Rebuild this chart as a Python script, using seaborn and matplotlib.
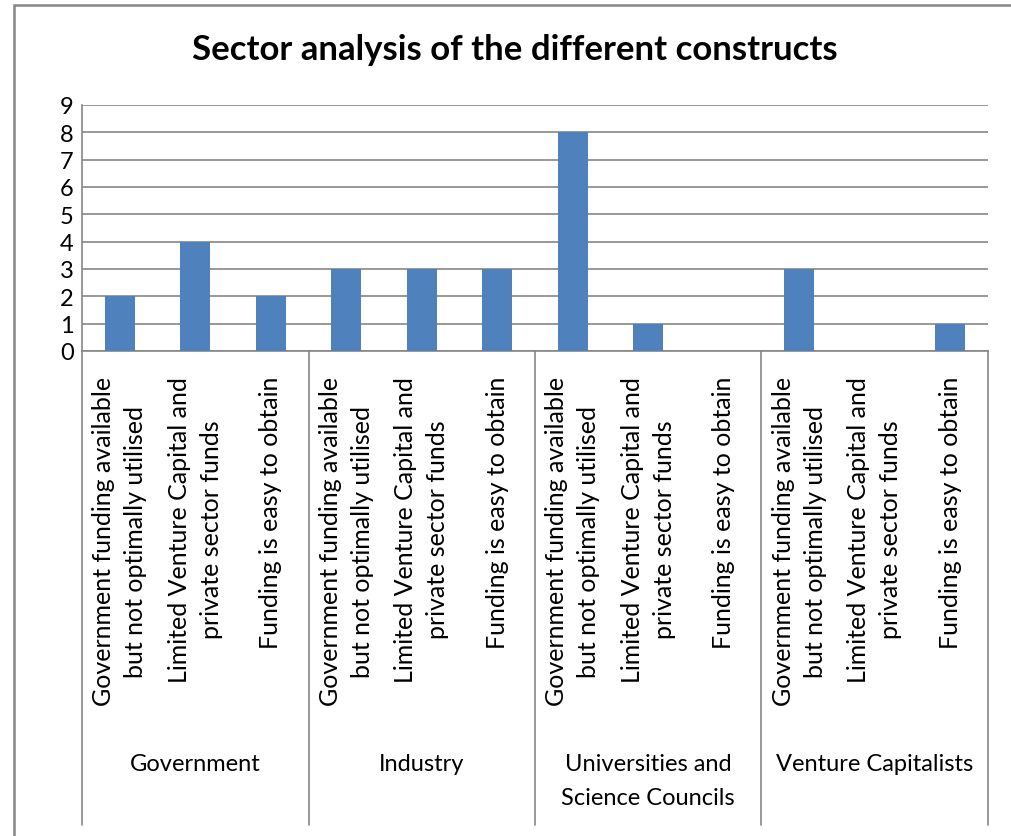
import matplotlib
matplotlib.use("Agg")
import matplotlib.pyplot as plt
import seaborn as sns
import pandas as pd
from matplotlib.patches import Rectangle

sectors = ["Government", "Industry", "Universities and\nScience Councils", "Venture Capitalists"]
constructs = ["Government funding available\nbut not optimally utilised",
              "Limited Venture Capital and\nprivate sector funds",
              "Funding is easy to obtain"]
government = [2, 4, 2]
industry = [3, 3, 3]
universities = [8, 1, 0]
venture = [3, 0, 1]
yticks = list(range(0, 10))

values = government + industry + universities + venture
labels = [f"{i}" for i in range(len(values))]
df = pd.DataFrame({"pos": labels, "value": values})

sns.set_style("white")
plt.rcParams['font.family'] = ['Lato', 'DejaVu Sans']
plt.rcParams['text.color'] = 'black'
plt.rcParams['xtick.color'] = 'black'
plt.rcParams['ytick.color'] = 'black'

W, H = 1012, 837
fig = plt.figure(figsize=(W / 100, H / 100), dpi=100)
x0, x1, ytop, ybot = 82, 988, 106, 352
ax = fig.add_axes([x0 / W, 1 - ybot / H, (x1 - x0) / W, (ybot - ytop) / H])

sns.barplot(data=df, x="pos", y="value", color="#4F81BD", width=0.4, ax=ax,
            saturation=1, zorder=3, linewidth=0)
ax.set_ylim(0, 9)
ax.set_xlim(-0.5, len(values) - 0.5)
ax.set_yticks(yticks)
ax.set_yticklabels([str(t) for t in yticks], fontsize=17)
ax.yaxis.grid(True, color="#868686", linewidth=1.2, zorder=0)
ax.set_xlabel("")
ax.set_ylabel("")
for s in ["top", "right"]:
    ax.spines[s].set_visible(False)
ax.spines["left"].set_color("#868686")
ax.spines["bottom"].set_color("#868686")
ax.spines["left"].set_linewidth(1.2)
ax.spines["bottom"].set_linewidth(1.2)
ax.tick_params(axis="y", length=0, pad=6)
ax.tick_params(axis="x", length=0)
ax.set_xticks(range(len(values)))
ax.set_xticklabels([constructs[i % 3] for i in range(len(values))], rotation=90,
                   fontsize=18, ha="center", va="top", multialignment="center",
                   linespacing=1.45)
ax.tick_params(axis="x", pad=18)

axh = ybot - ytop
tr = ax.get_xaxis_transform()
ybottom_ax = -(826 - ybot) / axh
for k in range(5):
    xb = -0.5 + 3 * k
    ax.plot([xb, xb], [0, ybottom_ax], color="#868686", linewidth=1.2,
            clip_on=False, zorder=2, transform=tr)
grp_y = -(754 - ybot) / axh
for k, s in enumerate(sectors):
    ax.text(3 * k + 1, grp_y, s, ha="center", va="top", fontsize=17,
            linespacing=1.75, clip_on=False, transform=tr)

fig.text(515 / W, 1 - 50 / H, "Sector analysis of the different constructs",
         ha="center", va="center", fontsize=25, fontweight="bold")

fig.patches.append(Rectangle((14 / W, -0.01), 1.2, 1 - 5.5 / H + 0.01,
                             transform=fig.transFigure, fill=False,
                             edgecolor="#868686", linewidth=1.8))

fig.savefig("out.png", dpi=100)
